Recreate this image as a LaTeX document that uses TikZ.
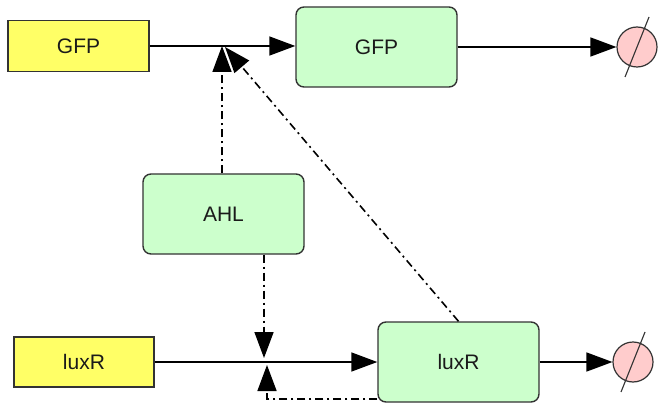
\documentclass[tikz,border=0pt]{standalone}
\usepackage{fontspec}
\setmainfont{Liberation Sans}
\usetikzlibrary{arrows.meta,calc}
\definecolor{geneyellow}{HTML}{FFFF66}
\definecolor{protgreen}{HTML}{CCFFCC}
\definecolor{degpink}{HTML}{FFCCCC}
\definecolor{edgegray}{HTML}{333333}
\definecolor{textgray}{HTML}{1A1A1A}
\tikzset{
  gene/.style={draw=edgegray, line width=1.4pt, fill=geneyellow, minimum width=141pt, minimum height=51pt, inner sep=0pt, text=textgray, font=\fontsize{21}{24}\selectfont},
  prot/.style={draw=edgegray, line width=1.4pt, fill=protgreen, rounded corners=8pt, minimum width=161pt, minimum height=80pt, inner sep=0pt, text=textgray, font=\fontsize{21}{24}\selectfont},
  degr/.style={draw=edgegray, line width=1.2pt, fill=degpink, circle, minimum size=40pt, inner sep=0pt},
  flow/.style={line width=1.6pt, -{Triangle[length=26pt,width=19pt]}},
  regul/.style={line width=1.6pt, dash pattern=on 8pt off 4pt on 2pt off 4pt, -{Triangle[length=26pt,width=19pt]}},
  slash/.style={line width=1.1pt, draw=edgegray},
}
\begin{document}
\begin{tikzpicture}[x=1pt,y=-1pt]
\useasboundingbox (0,0) rectangle (658,406);
\node[gene] (gfpg) at (78.5,46) {GFP};
\node[prot] (gfpp) at (376.5,47) {GFP};
\node[degr] (deg1) at (637,47) {};
\node[prot] (ahl) at (223.5,214) {AHL};
\node[gene, minimum width=140pt, minimum height=50pt] (luxg) at (84,362) {luxR};
\node[prot] (luxp) at (458.5,362) {luxR};
\node[degr] (deg2) at (633,362) {};
\coordinate (j1) at (222,46);
\coordinate (j1d) at (225,47);
\coordinate (j2d) at (264,358);
\coordinate (j2u) at (267,365);
% flows
\draw[flow] (gfpg.east) -- (gfpp.west |- gfpg.east);
\draw[flow] (gfpp.east) -- (deg1.west);
\draw[flow] (luxg.east) -- (luxp.west |- luxg.east);
\draw[flow] (luxp.east) -- (deg2.west);
% regulation
\draw[regul] (j1 |- ahl.north) -- (j1);
\draw[regul] (luxp.north) -- (j1d);
\draw[regul] (j2d |- ahl.south) -- (j2d);
\draw[regul] ([yshift=4pt]luxp.south west) -| (j2u);
% degradation slashes
\draw[slash] ([shift={(12,-30)}]deg1.center) -- ([shift={(-12,30)}]deg1.center);
\draw[slash] ([shift={(12,-30)}]deg2.center) -- ([shift={(-12,30)}]deg2.center);
\end{tikzpicture}
\end{document}
